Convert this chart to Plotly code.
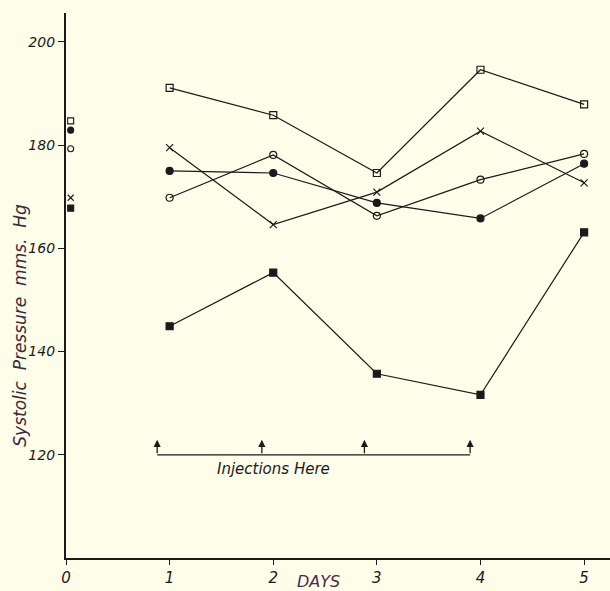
import plotly.graph_objects as go

days = [1, 2, 3, 4, 5]
open_square = [191.1, 185.8, 174.6, 194.6, 187.9]
cross = [179.5, 164.6, 170.9, 182.7, 172.7]
filled_circle = [175.0, 174.6, 168.8, 165.8, 176.4]
open_circle = [169.8, 178.1, 166.3, 173.3, 178.3]
filled_square = [144.9, 155.3, 135.7, 131.6, 163.1]

# initial (day 0) readings, plotted just right of the axis
initial_day = 0.045
initial = {
    "open_square": 184.7,
    "filled_circle": 182.9,
    "open_circle": 179.3,
    "cross": 169.8,
    "filled_square": 167.8,
}

injection_days = [0.88, 1.89, 2.88, 3.90]
injection_level = 120
injection_tip = 122.9

y_ticks = [120, 140, 160, 180, 200]
x_ticks = [0, 1, 2, 3, 4, 5]

INK = "#1a1a1a"
BG = "#fdfde9"

series = [
    ("open_square", open_square, "square-open", 7),
    ("cross", cross, "x-thin-open", 7),
    ("filled_circle", filled_circle, "circle", 7),
    ("open_circle", open_circle, "circle-open", 7),
    ("filled_square", filled_square, "square", 7),
]

fig = go.Figure()
for name, vals, sym, sz in series:
    fig.add_trace(go.Scatter(
        x=days, y=vals, mode="lines+markers",
        line=dict(color=INK, width=1.2),
        marker=dict(symbol=sym, size=sz, color=INK,
                    line=dict(color=INK, width=1.2)),
        showlegend=False, hoverinfo="skip"))
    fig.add_trace(go.Scatter(
        x=[initial_day], y=[initial[name]], mode="markers",
        marker=dict(symbol=sym, size=sz - 1, color=INK,
                    line=dict(color=INK, width=1.1)),
        showlegend=False, hoverinfo="skip"))

# injection bracket
fig.add_trace(go.Scatter(
    x=[injection_days[0], injection_days[-1]],
    y=[injection_level, injection_level], mode="lines",
    line=dict(color=INK, width=1.3), showlegend=False, hoverinfo="skip"))
for d in injection_days:
    fig.add_annotation(
        x=d, y=injection_tip, ax=d, ay=injection_level,
        xref="x", yref="y", axref="x", ayref="y",
        showarrow=True, arrowhead=2, arrowsize=1.1, arrowwidth=1.3,
        arrowcolor=INK, text="")

fig.add_annotation(
    x=2.0, y=117.2, xref="x", yref="y", showarrow=False,
    text="<i>Injections Here</i>",
    font=dict(family="DejaVu Sans", size=15, color=INK))

fig.add_annotation(
    x=-0.0846, y=0.428, xref="paper", yref="paper", xanchor="center", yanchor="middle",
    showarrow=False, textangle=-90,
    text="<i>Systolic  Pressure  mms.  Hg</i>",
    font=dict(family="DejaVu Sans", size=17, color="#3a2a3a"))

fig.add_annotation(
    x=0.465, y=-0.044, xref="paper", yref="paper", xanchor="center", yanchor="middle",
    showarrow=False, text="<i>DAYS</i>",
    font=dict(family="DejaVu Sans", size=16, color="#4a2a4a"))

fig.update_layout(
    width=610, height=591,
    margin=dict(l=66, r=0, t=13, b=33),
    paper_bgcolor=BG, plot_bgcolor=BG,
    font=dict(family="DejaVu Sans", color=INK, size=14),
    xaxis=dict(range=[0, 5.25], tickvals=x_ticks,
               ticktext=[f"<i>{t}</i>" for t in x_ticks],
               showgrid=False, zeroline=False, showline=True,
               linecolor=INK, linewidth=2.2, ticks="outside",
               ticklen=5, tickcolor=INK, tickwidth=1.3,
               tickfont=dict(size=15, family="DejaVu Sans")),
    yaxis=dict(range=[100, 205.6], tickvals=y_ticks,
               ticktext=[f"<i>{t}</i>" for t in y_ticks],
               showgrid=False, zeroline=False, showline=True,
               linecolor=INK, linewidth=2.2, ticks="outside",
               ticklen=6, tickcolor=INK, tickwidth=1.3,
               tickfont=dict(size=14, family="DejaVu Sans")),
)

fig.write_html("out.html")
